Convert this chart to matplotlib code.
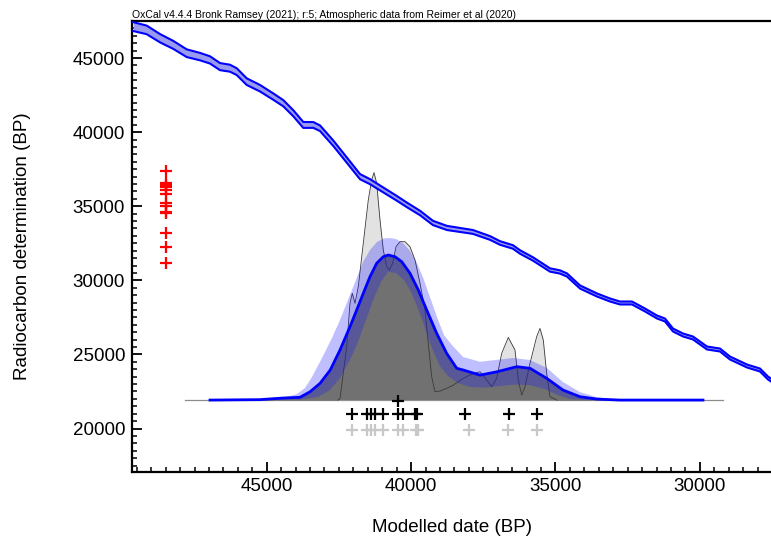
import matplotlib
matplotlib.use("Agg")
import matplotlib.pyplot as plt
import numpy as np
from matplotlib.ticker import MultipleLocator

plt.rcParams['font.family'] = ['Liberation Sans', 'DejaVu Sans']

# calibration curve (IntCal20 atmospheric)
cal_bp = [49620, 49156, 48695, 48234, 47770, 47310, 46964, 46617, 46271, 46039,
          45693, 45232, 44771, 44425, 44079, 43733, 43386, 43154, 42694, 42230,
          41769, 41423, 40962, 40498, 40141, 39691, 39241, 38756, 38306, 37856,
          37267, 36921, 36471, 36228, 35778, 35189, 34843, 34601, 34150, 33562,
          33111, 32765, 32350, 31899, 31484, 31207, 30930, 30583, 30237, 29752,
          29302, 28956, 28367, 27917, 27640, 27536]
cal_c14 = [47122, 46899, 46339, 45886, 45326, 45097, 44874, 44422, 44314, 44084,
           43409, 42964, 42397, 41951, 41276, 40486, 40486, 40264, 39251, 38124,
           36997, 36659, 36099, 35539, 35086, 34546, 33871, 33534, 33399, 33264,
           32859, 32521, 32251, 31914, 31441, 30699, 30564, 30361, 29551, 29011,
           28674, 28471, 28471, 27999, 27526, 27324, 26649, 26311, 26109, 25434,
           25299, 24759, 24219, 23949, 23409, 23274]
cal_sigma = [300, 290, 280, 270, 260, 250, 245, 240, 235, 230,
             225, 220, 215, 210, 205, 200, 195, 190, 185, 180,
             175, 170, 165, 160, 155, 150, 145, 140, 135, 130,
             125, 122, 120, 118, 115, 112, 110, 108, 106, 104,
             102, 100, 100, 100, 100, 100, 100, 100, 100, 100,
             100, 100, 100, 100, 100, 100]

# radiocarbon determinations (red, on the y axis)
c14_dates = [37381, 36592, 36436, 36281, 36099, 35809, 35201, 35039, 34634,
             34526, 33217, 32272, 31151]

# medians: modelled (black) and unmodelled (light gray)
med_modelled = [42036, 41537, 41398, 41250, 40962, 40443, 40290, 39864, 39785,
                38133, 36609, 35650]
med_unmodelled = [42036, 41537, 41398, 41250, 40962, 40443, 40290, 39830, 39750,
                  37984, 36633, 35629]
med_kde = 40443

# summed likelihoods (light gray), relative density
sum_bp = [42531, 42462, 42230, 42115, 42036, 41942, 41828, 41655, 41482, 41364,
          41284, 41191, 41076, 40962, 40844, 40754, 40637, 40522, 40384, 40211,
          40038, 39864, 39691, 39518, 39404, 39286, 39172, 38999, 38767, 38538,
          38192, 37845, 37613, 37381, 37208, 37035, 36862, 36633, 36401, 36287,
          36169, 36055, 35882, 35650, 35536, 35421, 35304, 35189, 34957]
sum_p = [0.0, 0.01, 0.368, 0.667, 0.736, 0.667, 0.781, 1.081, 1.379, 1.517,
         1.568, 1.494, 1.241, 1.034, 0.919, 0.897, 0.943, 1.057, 1.092, 1.092,
         1.057, 0.966, 0.805, 0.621, 0.391, 0.161, 0.057, 0.062, 0.081, 0.103,
         0.150, 0.184, 0.195, 0.138, 0.092, 0.150, 0.322, 0.432, 0.345, 0.138,
         0.034, 0.092, 0.253, 0.437, 0.494, 0.414, 0.184, 0.023, 0.0]

# KDE mean
kde_bp = [46964, 45232, 44436, 43847, 43500, 43154, 42800, 42462, 42115, 41883,
          41655, 41424, 41191, 40962, 40789, 40557, 40325, 40038, 39750, 39459,
          39113, 38767, 38420, 38192, 37613, 37025, 36343, 35882, 35304, 34739,
          34150, 33572, 32765, 29891]
kde_p = [0.0, 0.003, 0.014, 0.019, 0.057, 0.115, 0.207, 0.345, 0.506, 0.621,
         0.736, 0.850, 0.943, 0.988, 1.0, 0.988, 0.954, 0.874, 0.759, 0.621,
         0.460, 0.322, 0.219, 0.207, 0.172, 0.195, 0.230, 0.219, 0.150, 0.069,
         0.023, 0.007, 0.0, 0.0]

# KDE +/- 1 sigma band edges
kde_hi_bp = [46964, 44539, 43951, 43674, 43431, 43085, 42739, 42462, 42185, 41908,
             41665, 41423, 41180, 40938, 40730, 40522, 40280, 40038, 39795, 39553,
             39345, 39103, 38860, 38583, 38202, 37613, 36471, 35882, 35293, 34739,
             34150, 33562, 32938, 32073]
kde_hi_p = [0.0, 0.010, 0.041, 0.083, 0.159, 0.290, 0.428, 0.552, 0.690, 0.828,
            0.952, 1.034, 1.090, 1.114, 1.117, 1.110, 1.083, 1.028, 0.945, 0.828,
            0.710, 0.572, 0.448, 0.379, 0.297, 0.264, 0.290, 0.276, 0.221, 0.124,
            0.055, 0.019, 0.003, 0.0]
kde_lo_bp = [45232, 43847, 43223, 42808, 42462, 42115, 41838, 41561, 41284, 41042,
             40799, 40522, 40245, 40003, 39795, 39587, 39414, 39206, 38999, 38722,
             38375, 37960, 37440, 36921, 36401, 35882, 35362, 34912, 34497, 33977]
kde_lo_p = [0.0, 0.003, 0.021, 0.069, 0.152, 0.276, 0.400, 0.552, 0.703, 0.814,
            0.883, 0.876, 0.828, 0.745, 0.648, 0.538, 0.428, 0.324, 0.234, 0.166,
            0.117, 0.090, 0.086, 0.097, 0.107, 0.103, 0.076, 0.034, 0.007, 0.0]

# range of the plotted distribution baseline
base_range = [47829, 29198]

base_c14 = 21920        # where the distributions sit
dist_height = 9790      # c14 years for relative density 1
red_x = 48500           # x of the red determinations
med_row = 20950
unmod_row = 19900
kde_med_row = 21876

fig = plt.figure(figsize=(7.71, 5.38), dpi=100)
ax = fig.add_axes([132 / 771, 1 - 471.5 / 538, 1 - 132 / 771, (471.5 - 21) / 538])

cal_bp = np.array(cal_bp)
cal_c14 = np.array(cal_c14)
cal_sigma = np.array(cal_sigma)


def scale(p):
    return base_c14 + dist_height * np.array(p)


# distributions
ax.plot(base_range, [base_c14, base_c14], color='#8c8c8c', lw=0.9, zorder=1)
ax.fill_between(sum_bp, base_c14, scale(sum_p), color='#e2e2e2', lw=0, zorder=2)
ax.fill_between(kde_bp, base_c14, scale(kde_p), color='#717171', lw=0, zorder=3)
ax.plot(sum_bp, scale(sum_p), color='#3a3a3a', lw=0.6, zorder=4)
band_x = list(kde_hi_bp) + list(kde_lo_bp)[::-1]
band_y = list(scale(kde_hi_p)) + list(scale(kde_lo_p))[::-1]
ax.fill(band_x, band_y, color=(0.1, 0.1, 1.0), alpha=0.28, lw=0, zorder=5)
ax.plot(kde_bp, scale(kde_p), color='#0000ff', lw=2.0, zorder=6,
        solid_joinstyle='round')

# calibration curve
ax.fill_between(cal_bp, cal_c14 - cal_sigma, cal_c14 + cal_sigma,
                color='#9a9aee', lw=0, zorder=7)
ax.plot(cal_bp, cal_c14 + cal_sigma, color='#0000ff', lw=1.5, zorder=8,
        solid_joinstyle='round')
ax.plot(cal_bp, cal_c14 - cal_sigma, color='#0000ff', lw=1.5, zorder=8,
        solid_joinstyle='round')

# crosses
ax.plot([red_x] * len(c14_dates), c14_dates, '+', color='#ff0000',
        ms=8, mew=1.6, zorder=9)
ax.plot(med_modelled, [med_row] * len(med_modelled), '+', color='black',
        ms=8, mew=1.6, zorder=9)
ax.plot([med_kde], [kde_med_row], '+', color='black', ms=8, mew=1.6, zorder=9)
ax.plot(med_unmodelled, [unmod_row] * len(med_unmodelled), '+', color='#c8c8c8',
        ms=8, mew=1.6, zorder=9)

ax.set_xlim(49665, 27535)
ax.set_ylim(17100, 47500)

ax.xaxis.set_major_locator(MultipleLocator(5000))
ax.xaxis.set_minor_locator(MultipleLocator(500))
ax.yaxis.set_major_locator(MultipleLocator(5000))
ax.yaxis.set_minor_locator(MultipleLocator(500))
ax.tick_params(which='major', direction='in', length=7, width=1.3,
               labelsize=13.5, pad=5)
ax.tick_params(which='minor', direction='in', length=3.5, width=1.1)
ax.tick_params(top=False, right=False, which='both')

for side in ['left', 'bottom', 'top']:
    ax.spines[side].set_linewidth(1.6)
ax.spines['right'].set_visible(False)

ax.set_xlabel("Modelled date (BP)", fontsize=13.5, labelpad=17)
ax.set_ylabel("Radiocarbon determination (BP)", fontsize=13.5, labelpad=30)

fig.text(132 / 771, 1 - 18 / 538,
         "OxCal v4.4.4 Bronk Ramsey (2021); r:5; Atmospheric data from Reimer et al (2020)",
         fontsize=7.5, ha='left', va='baseline')

fig.savefig("out.png", dpi=100)
